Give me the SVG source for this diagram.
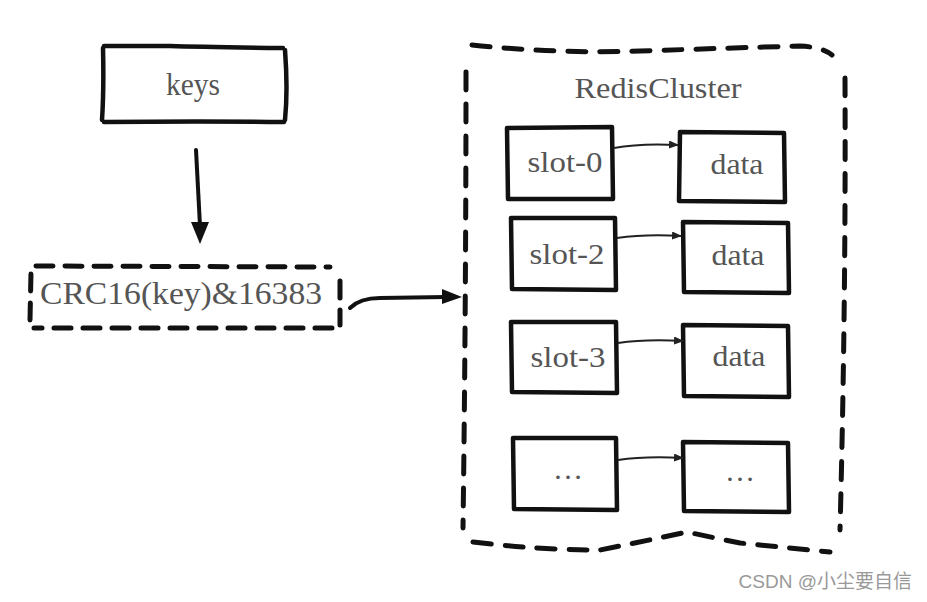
<svg xmlns="http://www.w3.org/2000/svg" width="927" height="602" viewBox="0 0 927 602">
<style>
.box{fill:none;stroke:#111;stroke-width:4.5;stroke-linecap:round;stroke-linejoin:round}
.dash{fill:none;stroke:#111;stroke-width:5;stroke-linecap:round;stroke-dasharray:18 14}
.t{font-family:"Liberation Serif","DejaVu Serif",serif;fill:#555;text-anchor:middle}
.thin{fill:none;stroke:#222;stroke-width:2}
.thick{fill:none;stroke:#111;stroke-width:4;stroke-linecap:round}
</style>
<defs>
<marker id="sm" viewBox="0 0 10 8" refX="9" refY="4" markerWidth="10" markerHeight="8" markerUnits="userSpaceOnUse" orient="auto">
<path d="M0,0 L10,4 L0,8 Z" fill="#222"/>
</marker>
</defs>
<rect width="927" height="602" fill="#fff"/>

<g id="keys">
<path class="box" d="M104 46 L170 46 Q200 47 283 48 M285 50 Q288 90 285 120 M284 122 Q200 121 104 122 M102 120 Q104 90 103 48"/>
<text class="t" x="193" y="95" font-size="31" textLength="54" lengthAdjust="spacingAndGlyphs">keys</text>
</g>

<g id="crc">
<path class="dash" d="M36 266 L330 267 M340 281 L340 325 M332 328 L34 328 M30 320 L31 272" style="stroke-dasharray:17 12"/>
<text class="t" x="181" y="304" font-size="32" textLength="282" lengthAdjust="spacingAndGlyphs">CRC16(key)&amp;16383</text>
</g>

<g id="cluster">
<path class="dash" d="M472 45 Q560 54 640 51 Q730 48 800 46 Q822 47 832 55"/>
<path class="dash" d="M845 78 Q846 300 840 530"/>
<path class="dash" d="M473 542 Q540 550 600 550 Q650 540 687 532 Q715 538 740 543 Q790 548 830 552"/>
<path class="dash" d="M466 72 Q466 300 463 528"/>
<text class="t" x="658" y="98" font-size="30" textLength="167" lengthAdjust="spacingAndGlyphs">RedisCluster</text>
</g>

<g id="slot0">
<path class="box" d="M507 128 L612 127 L613 199 L508 199 Z"/>
<text class="t" x="565" y="172" font-size="30" textLength="75" lengthAdjust="spacingAndGlyphs">slot-0</text>
</g>
<g id="data0">
<path class="box" d="M680 132 L784 133 L785 202 L679 201 Z"/>
<text class="t" x="737" y="174" font-size="30" textLength="53" lengthAdjust="spacingAndGlyphs">data</text>
</g>
<g id="slot2">
<path class="box" d="M511 218 L615 218 L616 290 L512 289 Z"/>
<text class="t" x="567" y="264" font-size="30" textLength="75" lengthAdjust="spacingAndGlyphs">slot-2</text>
</g>
<g id="data2">
<path class="box" d="M683 222 L788 223 L789 293 L684 292 Z"/>
<text class="t" x="738" y="265" font-size="30" textLength="53" lengthAdjust="spacingAndGlyphs">data</text>
</g>
<g id="slot3">
<path class="box" d="M511 322 L616 322 L617 393 L512 392 Z"/>
<text class="t" x="568" y="367" font-size="30" textLength="75" lengthAdjust="spacingAndGlyphs">slot-3</text>
</g>
<g id="data3">
<path class="box" d="M683 325 L788 326 L789 397 L684 396 Z"/>
<text class="t" x="739" y="366" font-size="30" textLength="53" lengthAdjust="spacingAndGlyphs">data</text>
</g>
<g id="slotN">
<path class="box" d="M513 438 L616 438 L617 510 L514 509 Z"/>
<text class="t" x="568" y="479" font-size="30">…</text>
</g>
<g id="dataN">
<path class="box" d="M683 442 L788 443 L789 512 L684 511 Z"/>
<text class="t" x="740" y="481" font-size="30">…</text>
</g>

<g id="connectors">
<path class="thick" d="M196 150 Q198 190 200 226"/>
<path d="M191 222 L209 222 L200 244 Z" fill="#111"/>
<path class="thick" d="M350 308 Q360 298 380 298 L446 297"/>
<path d="M442 289 L462 297 L442 304 Z" fill="#111"/>
<path class="thin" d="M614 148 Q640 143 678 145" marker-end="url(#sm)"/>
<path class="thin" d="M617 238 Q645 234 681 236" marker-end="url(#sm)"/>
<path class="thin" d="M618 343 Q645 339 683 341" marker-end="url(#sm)"/>
<path class="thin" d="M618 460 Q645 456 683 458" marker-end="url(#sm)"/>
</g>

<text x="912" y="588" font-family="'Liberation Sans','Noto Sans CJK SC',sans-serif" font-size="19" fill="#999" text-anchor="end">CSDN @小尘要自信</text>
</svg>
